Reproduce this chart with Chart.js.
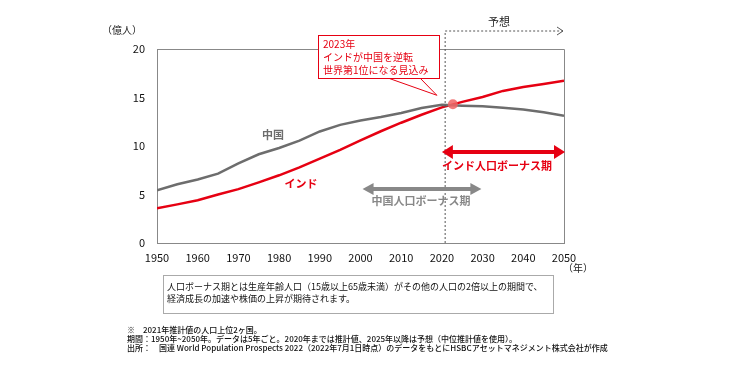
<!doctype html>
<html>

<head>
	<title>中国とインドの人口推移</title>
	<script src="https://cdn.jsdelivr.net/npm/chart.js@4"></script>
	<style>
		body { margin: 0; background: #fff; }
		#canvas-holder { width: 740px; height: 370px; }
	</style>
</head>

<body>
	<div id="canvas-holder">
		<canvas id="chart-area" width="740" height="370"></canvas>
	</div>

	<script>
		// 人口（億人）、5年ごと
		const years = [1950, 1955, 1960, 1965, 1970, 1975, 1980, 1985, 1990, 1995, 2000,
			2005, 2010, 2015, 2020, 2025, 2030, 2035, 2040, 2045, 2050];
		const china = [5.44, 6.05, 6.55, 7.15, 8.20, 9.15, 9.80, 10.55, 11.50, 12.18, 12.62,
			12.98, 13.40, 13.92, 14.24, 14.16, 14.10, 13.95, 13.76, 13.48, 13.12];
		const india = [3.57, 3.98, 4.40, 5.00, 5.55, 6.25, 6.98, 7.80, 8.70, 9.60, 10.58,
			11.52, 12.40, 13.22, 13.98, 14.55, 15.05, 15.68, 16.08, 16.40, 16.72];
		const yTicks = [0, 5, 10, 15, 20];

		const crossing = { x: 2022.7, y: 14.3 };
		const forecastFrom = 2020.8;
		const indiaBonus = [2020, 2050];
		const chinaBonus = [2000.5, 2029.7];

		const FONT = '"Noto Sans CJK JP", "Noto Sans", sans-serif';
		const RED = '#e60012';
		const GRAY = '#6d6d6d';

		function arrowHead(ctx, x, y, dir, len, half) {
			ctx.beginPath();
			ctx.moveTo(x, y);
			ctx.lineTo(x - dir * len, y - half);
			ctx.lineTo(x - dir * len, y + half);
			ctx.closePath();
			ctx.fill();
		}

		function doubleArrow(ctx, x1, x2, y, color, w, len, half) {
			ctx.save();
			ctx.strokeStyle = color;
			ctx.fillStyle = color;
			ctx.lineWidth = w;
			ctx.beginPath();
			ctx.moveTo(x1 + len - 1, y);
			ctx.lineTo(x2 - len + 1, y);
			ctx.stroke();
			arrowHead(ctx, x1, y, -1, len, half);
			arrowHead(ctx, x2, y, 1, len, half);
			ctx.restore();
		}

		const notes = {
			id: 'notes',
			afterDraw(chart) {
				const ctx = chart.ctx;
				const xs = chart.scales.x;
				const ys = chart.scales.y;
				const area = chart.chartArea;
				ctx.save();

				// 予想 dashed line + arrow
				const fx = xs.getPixelForValue(forecastFrom);
				ctx.strokeStyle = '#555';
				ctx.lineWidth = 1;
				ctx.setLineDash([2, 2]);
				ctx.beginPath();
				ctx.moveTo(fx, area.bottom);
				ctx.lineTo(fx, 31);
				ctx.lineTo(area.right - 1, 31);
				ctx.stroke();
				ctx.setLineDash([]);
				ctx.beginPath();
				ctx.moveTo(area.right - 7, 27);
				ctx.lineTo(area.right - 1, 31);
				ctx.lineTo(area.right - 7, 35);
				ctx.stroke();
				ctx.fillStyle = '#222';
				ctx.font = '11px ' + FONT;
				ctx.textAlign = 'center';
				ctx.textBaseline = 'middle';
				ctx.fillText('予想', 499, 22);

				// crossing marker
				const cx = xs.getPixelForValue(crossing.x);
				const cy = ys.getPixelForValue(crossing.y);
				ctx.fillStyle = 'rgba(240, 100, 100, 0.85)';
				ctx.beginPath();
				ctx.arc(cx, cy, 5, 0, Math.PI * 2);
				ctx.fill();

				// callout
				const bx = 318, by = 35, bw = 121, bh = 43;
				ctx.fillStyle = '#fff';
				ctx.strokeStyle = RED;
				ctx.lineWidth = 1;
				ctx.beginPath();
				ctx.moveTo(388, by + bh);
				ctx.lineTo(cx - 16, cy - 9);
				ctx.lineTo(420, by + bh);
				ctx.stroke();
				ctx.fillRect(bx, by, bw, bh);
				ctx.strokeRect(bx + 0.5, by + 0.5, bw, bh);
				ctx.fillStyle = RED;
				ctx.font = '10px ' + FONT;
				ctx.textAlign = 'left';
				ctx.fillText('2023年', bx + 5, by + 9);
				ctx.fillText('インドが中国を逆転', bx + 5, by + 22);
				ctx.fillText('世界第1位になる見込み', bx + 5, by + 35);

				// series labels
				ctx.font = 'bold 11px ' + FONT;
				ctx.textAlign = 'center';
				ctx.fillStyle = GRAY;
				ctx.fillText('中国', 273, 135);
				ctx.fillStyle = RED;
				ctx.fillText('インド', 301, 184);

				// bonus periods
				const ry = 152;
				doubleArrow(ctx, xs.getPixelForValue(indiaBonus[0]), xs.getPixelForValue(indiaBonus[1]) + 1,
					ry, RED, 4, 11, 7);
				ctx.fillStyle = RED;
				ctx.font = 'bold 11px ' + FONT;
				ctx.fillText('インド人口ボーナス期', 497, 166);

				const gy = 189;
				doubleArrow(ctx, xs.getPixelForValue(chinaBonus[0]), xs.getPixelForValue(chinaBonus[1]),
					gy, '#888', 4, 11, 6);
				ctx.fillStyle = '#888';
				ctx.fillText('中国人口ボーナス期', 421, 201);

				// axis unit labels
				ctx.fillStyle = '#222';
				ctx.font = '10px ' + FONT;
				ctx.fillText('（億人）', 122, 30);
				ctx.fillText('（年）', 578, 268);

				// explanation box
				ctx.strokeStyle = '#aaa';
				ctx.strokeRect(163.5, 275.5, 390, 38);
				ctx.fillStyle = '#111';
				ctx.font = '9px ' + FONT;
				ctx.textAlign = 'left';
				ctx.fillText('人口ボーナス期とは生産年齢人口（15歳以上65歳未満）がその他の人口の2倍以上の期間で、', 167, 287);
				ctx.fillText('経済成長の加速や株価の上昇が期待されます。', 167, 299);

				// footnotes
				ctx.font = '500 8px ' + FONT;
				ctx.fillText('※　2021年推計値の人口上位2ヶ国。', 127, 330);
				ctx.fillText('期間：1950年~2050年。データは5年ごと。2020年までは推計値、2025年以降は予想（中位推計値を使用）。', 127, 339);
				ctx.fillText('出所：　国連 World Population Prospects 2022（2022年7月1日時点）のデータをもとにHSBCアセットマネジメント株式会社が作成', 127, 348);

				ctx.restore();
			}
		};

		const ctx2d = document.getElementById('chart-area').getContext('2d');
		window.myChart = new Chart(ctx2d, {
			type: 'line',
			data: {
				datasets: [{
					label: '中国',
					data: years.map((x, i) => ({ x, y: china[i] })),
					borderColor: GRAY,
					borderWidth: 2.5,
					pointRadius: 0,
					tension: 0
				}, {
					label: 'インド',
					data: years.map((x, i) => ({ x, y: india[i] })),
					borderColor: RED,
					borderWidth: 2.5,
					pointRadius: 0,
					tension: 0
				}]
			},
			options: {
				responsive: false,
				animation: false,
				layout: {
					padding: { left: 117, top: 49, right: 176, bottom: 107 }
				},
				scales: {
					x: {
						type: 'linear',
						min: 1950,
						max: 2050,
						ticks: { stepSize: 10, color: '#111', font: { family: FONT, size: 11 }, callback: v => String(v), padding: 4 },
						grid: { display: false, drawTicks: true, tickLength: 4, color: '#888' },
						border: { color: '#888', width: 1 },
						afterFit(scale) { scale.height = 20; }
					},
					y: {
						min: 0,
						max: 20,
						afterBuildTicks(scale) { scale.ticks = yTicks.map(v => ({ value: v })); },
						ticks: { color: '#111', font: { family: FONT, size: 11 }, padding: 8 },
						grid: { display: false, drawTicks: true, tickLength: 4, color: '#888' },
						border: { color: '#888', width: 1 },
						afterFit(scale) { scale.width = 40; }
					}
				},
				plugins: {
					legend: { display: false },
					tooltip: { enabled: false }
				}
			},
			plugins: [{
				id: 'frame',
				beforeDatasetsDraw(chart) {
					const c = chart.ctx, a = chart.chartArea;
					c.save();
					c.strokeStyle = '#888';
					c.lineWidth = 1;
					c.beginPath();
					c.moveTo(a.left, a.top + 0.5);
					c.lineTo(a.right + 0.5, a.top + 0.5);
					c.lineTo(a.right + 0.5, a.bottom);
					c.stroke();
					c.restore();
				}
			}, notes]
		});
	</script>
</body>
</html>
